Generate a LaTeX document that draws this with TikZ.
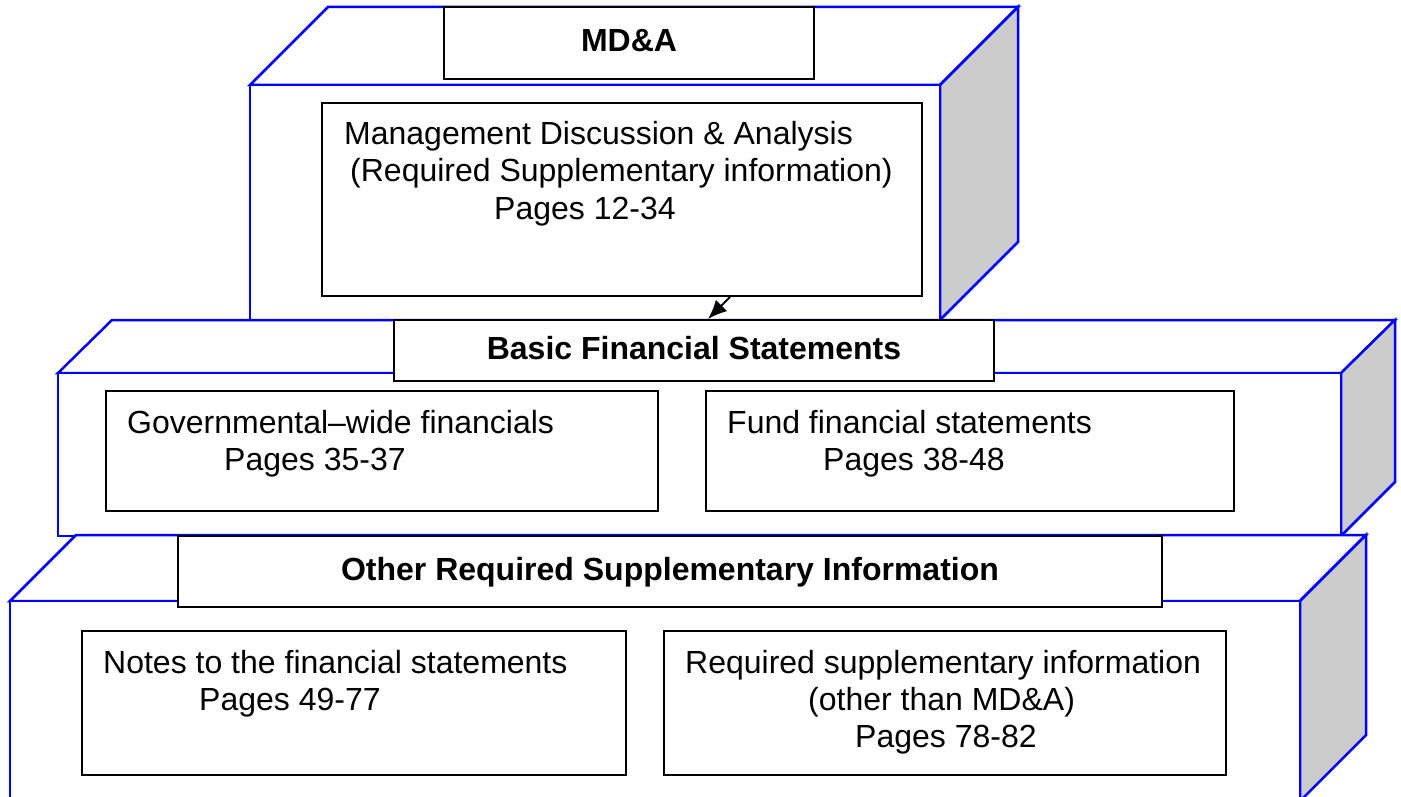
\documentclass[tikz,border=0pt]{standalone}
\usepackage{fontspec}
\setmainfont{Liberation Sans}
\usetikzlibrary{arrows.meta}

\tikzset{
	face/.style={draw=blue,line width=2.5pt,fill=white},
	side/.style={face,fill=gray!40},
	titlebox/.style={draw=black,line width=2pt,fill=white,inner sep=0pt,
		font=\bfseries\fontsize{32}{37}\selectfont,text height=23pt,text depth=6pt},
	infobox/.style={draw=black,line width=2pt,fill=white,inner sep=0pt},
	txt/.style={font=\fontsize{32}{37}\selectfont,inner sep=0pt,anchor=base west}
}

\begin{document}
\begin{tikzpicture}[x=1pt,y=-1pt]
	\useasboundingbox (0,0) rectangle (1401,797);
	\clip (0,0) rectangle (1401,797);
	% top block
	\draw[face] (250,85) -- (328,7) -- (1018,7) -- (940,85) -- cycle;
	\draw[side] (940,85) -- (1018,7) -- (1018,242) -- (940,320) -- cycle;
	\draw[face] (250,85) rectangle (940,320);
	\node[titlebox,minimum width=370pt,minimum height=72pt] (mda) at (629,43) {MD\&A};
	\node[infobox,minimum width=600pt,minimum height=193pt] (mgmt) at (622,199.5) {};
	\node[txt] (mgmt1) at (344,145) {Management Discussion \& Analysis};
	\node[txt] (mgmt2) at (350,182) {(Required Supplementary information)};
	\node[txt] (mgmt3) at (494,219) {Pages 12-34};
	% middle block
	\draw[face] (58,373) -- (112,320) -- (1395,320) -- (1341,373) -- cycle;
	\draw[side] (1341,373) -- (1395,320) -- (1395,482) -- (1341,536) -- cycle;
	\draw[face] (58,373) rectangle (1341,536);
	\node[titlebox,minimum width=600pt,minimum height=61pt] (basic) at (694,350.5) {Basic Financial Statements};
	\node[infobox,minimum width=552pt,minimum height=120pt] (gov) at (382,451) {};
	\node[txt] (gov1) at (127,433) {Governmental--wide financials};
	\node[txt] (gov2) at (224,470) {Pages 35-37};
	\node[infobox,minimum width=528pt,minimum height=120pt] (fund) at (970,451) {};
	\node[txt] (fund1) at (727,433) {Fund financial statements};
	\node[txt] (fund2) at (823,470) {Pages 38-48};
	% bottom block
	\draw[face] (10,601) -- (76,535) -- (1366,535) -- (1300,601) -- cycle;
	\draw[side] (1300,601) -- (1366,535) -- (1366,735) -- (1300,801) -- cycle;
	\draw[face] (10,601) rectangle (1300,805);
	\node[titlebox,minimum width=984pt,minimum height=71pt] (other) at (670,571.5) {Other Required Supplementary Information};
	\node[infobox,minimum width=544pt,minimum height=144pt] (notes) at (354,703) {};
	\node[txt] (notes1) at (103,673) {Notes to the financial statements};
	\node[txt] (notes2) at (199,710) {Pages 49-77};
	\node[infobox,minimum width=562pt,minimum height=144pt] (rsi) at (945,703) {};
	\node[txt] (rsi1) at (685,673) {Required supplementary information};
	\node[txt] (rsi2) at (808,710) {(other than MD\&A)};
	\node[txt] (rsi3) at (855,747) {Pages 78-82};
	% arrow
	\draw[-{Latex[length=19pt,width=16pt]},line width=2pt] ([xshift=108pt]mgmt.south) -- ([xshift=14pt]basic.north);
\end{tikzpicture}
\end{document}
